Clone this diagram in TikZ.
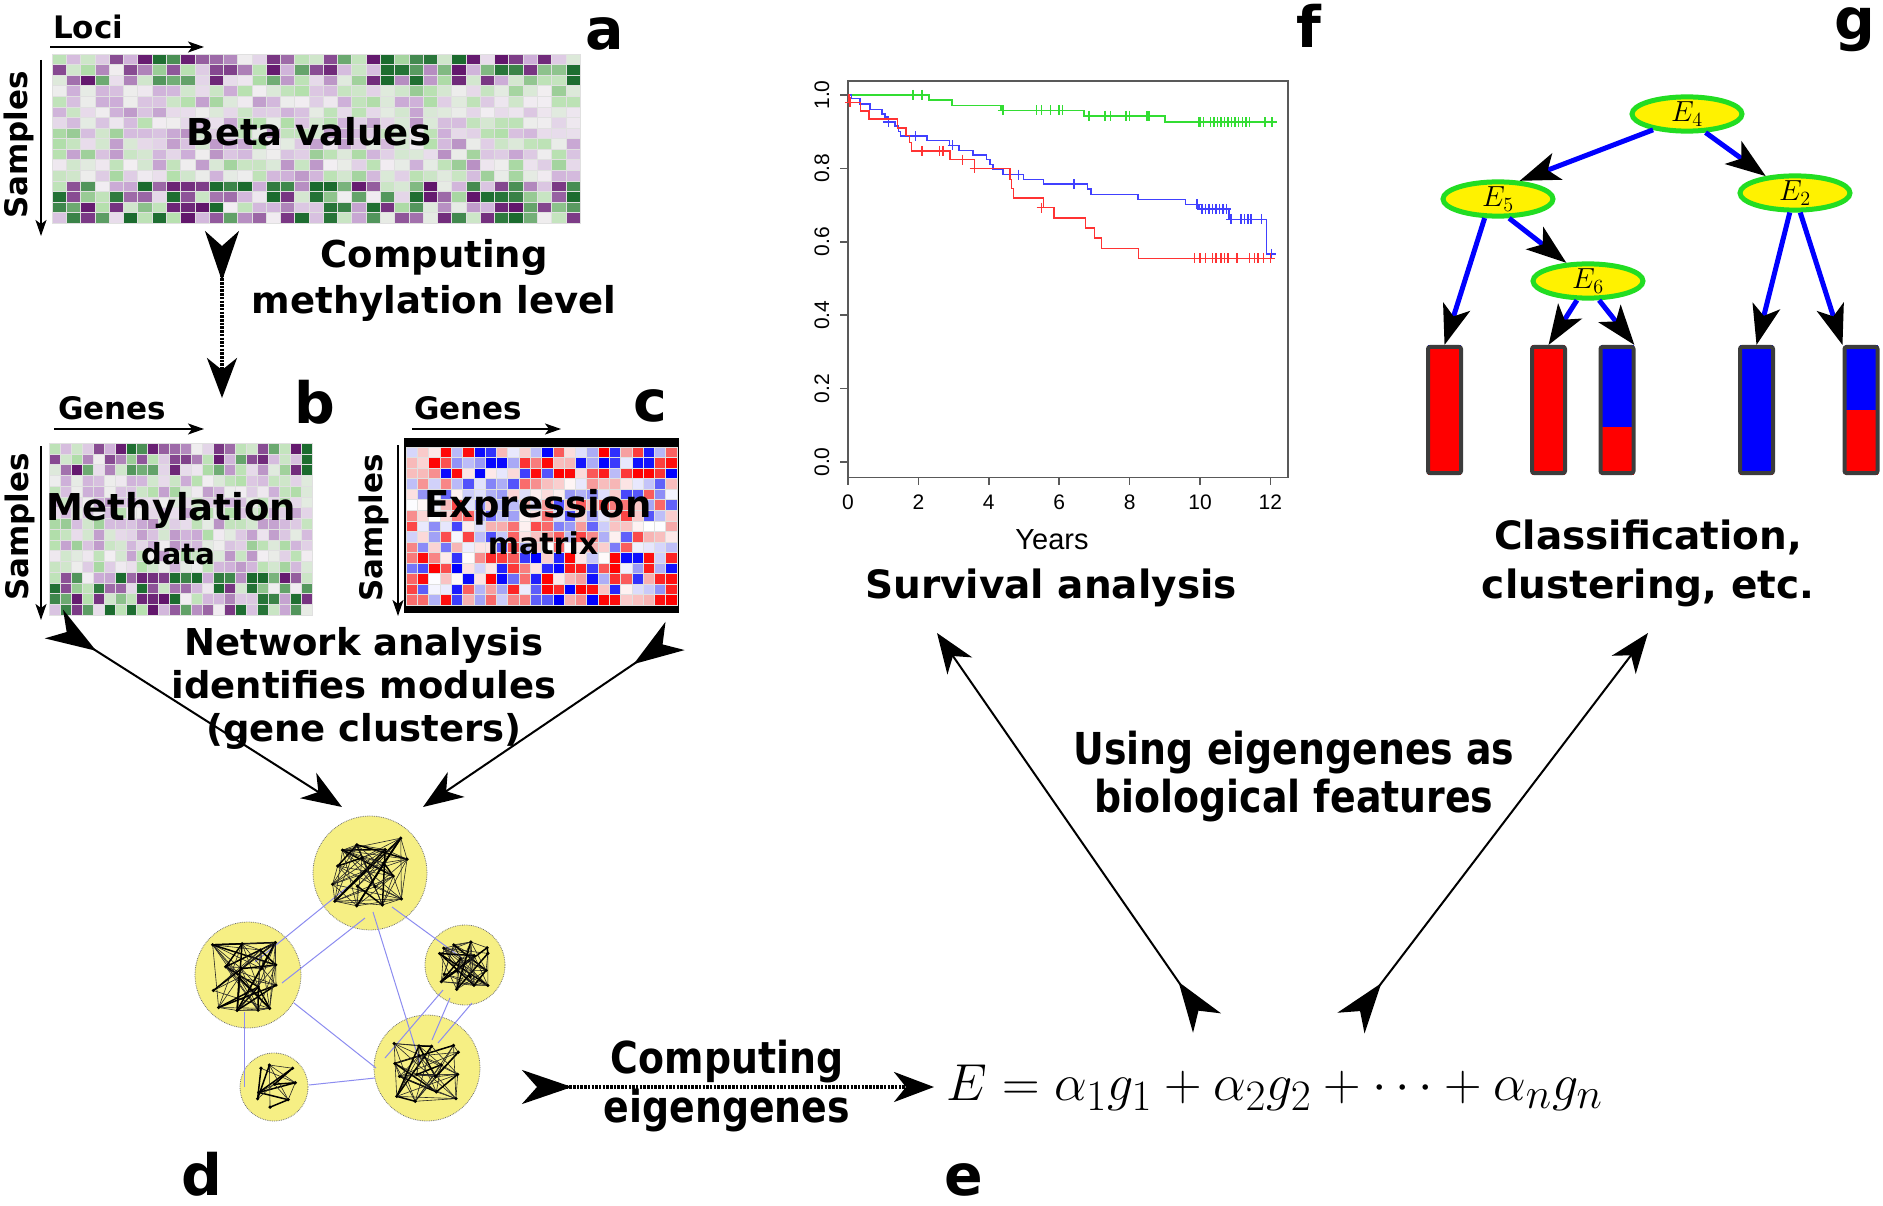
\documentclass[tikz,border=0pt]{standalone}
\usepackage{fontspec}
\setmainfont{DejaVu Sans}
\newfontfamily\condfont[FakeStretch=0.86]{DejaVu Sans}
\newfontfamily\plotfont{Liberation Sans}
\usetikzlibrary{arrows.meta, positioning, calc, shapes.geometric}

% heatmap palettes
\definecolor{pgZero}{HTML}{F2EEF2}
\definecolor{pgPosMid}{HTML}{B4E0AC}
\definecolor{pgPosDark}{HTML}{1B6B2E}
\definecolor{pgNegMid}{HTML}{CDAED8}
\definecolor{pgNegDark}{HTML}{62166C}
\definecolor{rbZero}{HTML}{FFFFFF}
\definecolor{rbPosMid}{HTML}{F6A8A8}
\definecolor{rbPosDark}{HTML}{FF0000}
\definecolor{rbNegMid}{HTML}{A8A8F6}
\definecolor{rbNegDark}{HTML}{0000FF}
% other colours
\definecolor{moduleYellow}{HTML}{F6EF84}
\definecolor{linkBlue}{HTML}{8C8CF0}
\definecolor{survGreen}{HTML}{33DD33}
\definecolor{survBlue}{HTML}{4040FF}
\definecolor{survRed}{HTML}{FF3333}
\definecolor{treeGreen}{HTML}{22DD22}
\definecolor{barFrame}{HTML}{3C3C3C}

\tikzset{
  lbl/.style={font=\fontsize{37}{45}\selectfont\bfseries, align=center, inner sep=0pt},
  axislbl/.style={font=\fontsize{31}{36}\selectfont\bfseries, inner sep=0pt},
  panel/.style={font=\fontsize{57}{60}\selectfont\bfseries, anchor=base, inner sep=0pt},
  condlbl/.style={font=\condfont\fontsize{44}{49}\selectfont\bfseries, align=center, inner sep=0pt},
  axarrow/.style={line width=1.8pt, -{Stealth[length=16pt, width=11pt, inset=4pt]}},
  bigflow/.style={arrows={Stealth[reversed, length=50pt, width=34pt, inset=15pt]-Stealth[length=40pt, width=30pt, inset=12pt]}},
  dotflow/.style={bigflow, line width=3.5pt, dash pattern=on 2.5pt off 1.2pt},
  thinflow/.style={bigflow, line width=2pt},
  hmcell/.style={draw=black!12, line width=0.4pt},
  hmbox/.style={inner sep=0pt, anchor=north west},
  module/.style={circle, fill=moduleYellow, draw=black!55, densely dotted, line width=0.8pt, inner sep=0pt},
  geneedge/.style={line width=0.6pt, black!85},
  modlink/.style={linkBlue, line width=1pt},
  plotframe/.style={draw=black!65, line width=1.6pt},
  ticklbl/.style={font=\plotfont\fontsize{21}{22}\selectfont, inner sep=0pt},
  survG/.style={survGreen, line width=1.5pt},
  survB/.style={survBlue, line width=1.5pt},
  survR/.style={survRed, line width=1.5pt},
  censor/.style={mark=+, mark size=5pt, only marks},
  split/.style={ellipse, draw=treeGreen, fill=yellow, line width=5pt, minimum width=110pt, minimum height=33pt, inner sep=0pt},
  treeedge/.style={draw=blue, line width=5pt, -{Stealth[color=black, length=40pt, width=28pt, inset=10pt]}},
  barbox/.style={draw=barFrame, line width=4pt, rounded corners=2pt, minimum width=33pt, minimum height=126pt, inner sep=0pt},
}

% #1 box node, #2 cols, #3 rows, #4 cell w, #5 cell h, #6 seed, #7 strong top rows, #8 strong bottom rows, #9 palette
\newcommand\heatmap[9]{%
  \pgfmathsetseed{#6}%
  \foreach \hc in {1,...,#2}{%
    \foreach \hr in {1,...,#3}{%
      \pgfmathsetmacro\hv{rand}%
      \pgfmathsetmacro\ha{abs(\hv)}%
      \pgfmathtruncatemacro\hsat{(\hr<=#7)||(\hr>#3-#8)}%
      \ifnum\hsat=1 \pgfmathsetmacro\ha{1-(1-\ha)*(1-\ha)}\else\pgfmathsetmacro\ha{\ha*\hmsoft}\fi
      \ifdim\hv pt<0pt \def\hside{Neg}\else\def\hside{Pos}\fi
      \ifdim\ha pt<0.5pt
        \pgfmathsetmacro\hp{\ha*200}\edef\hcol{#9\hside Mid!\hp!#9Zero}%
      \else
        \pgfmathsetmacro\hp{(\ha-0.5)*200}\edef\hcol{#9\hside Dark!\hp!#9\hside Mid}%
      \fi
      \filldraw[hmcell, fill=\hcol] ($(#1.north west)+({(\hc-1)*#4},{(\hr-1)*#5})$) rectangle +(#4,#5);
    }%
  }%
}
\def\hmsoft{0.6}

% #1 module node, #2 genes per side, #3 spacing, #4 jitter, #5 seed
\newcommand\genemodule[5]{%
  \pgfmathsetseed{#5}%
  \pgfmathsetmacro\gmid{(#2+1)/2}%
  \foreach \ga in {1,...,#2}{%
    \foreach \gb in {1,...,#2}{%
      \pgfmathtruncatemacro\k{(\ga-1)*#2+\gb}%
      \pgfmathsetmacro\gx{(\ga-\gmid)*#3+(rnd*2-1)*#4}%
      \pgfmathsetmacro\gy{(\gb-\gmid)*#3+(rnd*2-1)*#4}%
      \coordinate (#1-\k) at ($(#1)+(\gx,\gy)$);
    }%
  }%
  \pgfmathtruncatemacro\gnum{#2*#2}%
  \pgfmathtruncatemacro\glast{\gnum-1}%
  \foreach \i in {1,...,\glast}{%
    \pgfmathtruncatemacro\gnext{\i+1}%
    \foreach \j in {\gnext,...,\gnum}{%
      \pgfmathsetmacro\gpick{rnd}%
      \ifdim\gpick pt<0.12pt \draw[geneedge, line width=1.5pt, black] (#1-\i) -- (#1-\j);%
      \else\ifdim\gpick pt<0.5pt \draw[geneedge] (#1-\i) -- (#1-\j);\fi\fi
    }%
  }%
  \foreach \k in {1,...,\gnum} \fill (#1-\k) circle (1.8pt);
}

% #1 name, #2 x centre, #3 red fraction
\newcommand\classbar[3]{%
  \fill[red] (#2-16.5,345) rectangle (#2+16.5,475);
  \fill[blue] (#2-16.5,345) rectangle (#2+16.5,{475-130*#3});
  \node[barbox] (#1) at (#2,410) {};
}

\begin{document}
\begin{tikzpicture}[x=1pt, y=-1pt]
\fill[white] (0,0) rectangle (1883,1206);
\useasboundingbox (0,0) rectangle (1883,1206);

% ---- a: beta values
\node[hmbox, minimum width=528pt, minimum height=169pt] (hmA) at (52,54) {};
\heatmap{hmA}{37}{16}{14.27}{10.56}{42}{3}{4}{pg}
\node[lbl] (betaLbl) at (309,132) {Beta values};
\node[axislbl, anchor=base west] (lociLbl) at (53,39) {Loci};
\coordinate (lociS) at (50,47);
\coordinate (lociE) at (204,47);
\draw[axarrow] (lociS) -- (lociE);
\node[axislbl, rotate=90] (sampA) at (19,145) {Samples};
\coordinate (sampAS) at (41,60);
\coordinate (sampAE) at (41,236);
\draw[axarrow] (sampAS) -- (sampAE);
\node[panel] (pa) at (605,50) {a};

% a -> b
\node[lbl, font=\fontsize{37}{46}\selectfont\bfseries] (methLvl) at (434,280) {Computing\\methylation level};
\coordinate (abS) at (222,231);
\coordinate (abE) at (222,398);
\draw[dotflow] (abS) -- (abE);

% ---- b: methylation data
\node[hmbox, minimum width=263pt, minimum height=172pt] (hmB) at (49,443) {};
\heatmap{hmB}{24}{16}{10.96}{10.75}{42}{3}{4}{pg}
\node[lbl] (methLbl) at (171,510) {Methylation};
\node[lbl, font=\fontsize{29}{30}\selectfont\bfseries] (dataLbl) at (178,554) {data};
\node[axislbl, anchor=base west] (genesB) at (58,419) {Genes};
\coordinate (genBS) at (54,429);
\coordinate (genBE) at (204,429);
\draw[axarrow] (genBS) -- (genBE);
\node[axislbl, rotate=90] (sampB) at (20,527) {Samples};
\coordinate (sampBS) at (41,446);
\coordinate (sampBE) at (41,620);
\draw[axarrow] (sampBS) -- (sampBE);
\node[panel] (pb) at (315,423) {b};

% ---- c: expression matrix
\fill[black] (404,438) rectangle (679,613);
\node[hmbox, minimum width=271pt, minimum height=158pt] (hmC) at (406,447) {};
\def\hmsoft{0.8}
\heatmap{hmC}{24}{15}{11.29}{10.53}{7}{3}{5}{rb}
\node[lbl] (exprLbl) at (538,507) {Expression};
\node[lbl, font=\fontsize{30}{30}\selectfont\bfseries] (matLbl) at (543,543) {matrix};
\node[axislbl, anchor=base west] (genesC) at (414,419) {Genes};
\coordinate (genCS) at (412,429);
\coordinate (genCE) at (561,429);
\draw[axarrow] (genCS) -- (genCE);
\node[axislbl, rotate=90] (sampC) at (374,528) {Samples};
\coordinate (sampCS) at (398,445);
\coordinate (sampCE) at (398,616);
\draw[axarrow] (sampCS) -- (sampCE);
\node[panel] (pc) at (650,421) {c};

% b, c -> d
\node[lbl, font=\fontsize{37}{43}\selectfont\bfseries] (netLbl) at (364,688) {Network analysis\\identifies modules\\(gene clusters)};
\coordinate (bdS) at (54,624);
\coordinate (bdE) at (342,807);
\coordinate (cdS) at (675,636);
\coordinate (cdE) at (423,807);
\draw[thinflow] (bdS) -- (bdE);
\draw[thinflow] (cdS) -- (cdE);

% ---- d: modules
\node[module, minimum size=114pt] (modTop) at (370,873) {};
\node[module, minimum size=106pt] (modLeft) at (248,975) {};
\node[module, minimum size=80pt] (modRight) at (465,965) {};
\node[module, minimum size=68pt] (modBL) at (274,1087) {};
\node[module, minimum size=106pt] (modBR) at (427,1068) {};
\draw[modlink] ($(modTop)+(-20,12)$) -- ($(modLeft)+(7,-13)$);
\draw[modlink] ($(modTop)+(-5,45)$) -- ($(modLeft)+(34,8)$);
\draw[modlink] ($(modTop)+(22,34)$) -- ($(modRight)+(-3,-7)$);
\draw[modlink] ($(modTop)+(3,39)$) -- ($(modBR)+(-7,-5)$);
\draw[modlink] ($(modLeft)+(-4,37)$) -- ($(modBL)+(-30,0)$);
\draw[modlink] ($(modLeft)+(46,28)$) -- ($(modBR)+(-51,0)$);
\draw[modlink] ($(modBL)+(35,-2)$) -- ($(modBR)+(-52,10)$);
\draw[modlink] ($(modRight)+(-22,25)$) -- ($(modBR)+(-42,-10)$);
\draw[modlink] ($(modRight)+(7,38)$) -- ($(modBR)+(11,-25)$);
\draw[modlink] ($(modRight)+(-15,33)$) -- ($(modBR)+(5,-28)$);
\genemodule{modTop}{4}{20}{8}{11}
\genemodule{modLeft}{4}{19}{7}{23}
\genemodule{modRight}{4}{14}{5}{5}
\genemodule{modBL}{3}{17}{6}{17}
\genemodule{modBR}{4}{19}{7}{29}
\node[panel] (pd) at (202,1195) {d};

% d -> e
\node[condlbl] (eigLbl) at (727,1086) {Computing\\eigengenes};
\coordinate (deS) at (522,1087);
\coordinate (deE) at (934,1087);
\draw[dotflow] (deS) -- (deE);

% ---- e: eigengene
\node[inner sep=0pt] (eqE) at (1275,1088) {\scalebox{2.09}{\Huge$E=\alpha_1g_1+\alpha_2g_2+\cdots+\alpha_ng_n$}};
\node[panel] (pe) at (964,1195) {e};

% e -> f, g
\node[condlbl, font=\condfont\fontsize{44}{48}\selectfont\bfseries] (useLbl) at (1294,777) {Using eigengenes as\\biological features};
\coordinate (efS) at (1207,1023);
\coordinate (efE) at (937,633);
\coordinate (egS) at (1351,1023);
\coordinate (egE) at (1648,633);
\draw[thinflow] (efS) -- (efE);
\draw[thinflow] (egS) -- (egE);

% ---- f: survival curves
\begin{scope}[shift={(848,462)}, x=35.2pt, y=367pt]
  \draw[plotframe] (0,-0.042) rectangle (12.5,1.038);
  \foreach \t in {0,2,...,12}{
    \draw[plotframe] (\t,-0.042) -- (\t,-0.064);
    \node[ticklbl] (xtick\t) at (\t,-0.11) {\t};
  }
  \foreach \v [count=\n] in {0.0,0.2,0.4,0.6,0.8,1.0}{
    \draw[plotframe] (0,\v) -- (-0.23,\v);
    \node[ticklbl, rotate=90] (ytick\n) at (-0.74,\v) {\v};
  }
  \draw[survG] plot[const plot] coordinates {(0,1) (2.3,0.986) (2.95,0.972) (4.35,0.958) (6.7,0.943) (9.0,0.926) (12.1,0.926)};
  \draw[survG] plot[censor] coordinates {(1.85,1) (2.1,1) (4.4,0.958) (5.35,0.958) (5.5,0.958) (5.75,0.958) (6.0,0.958) (6.1,0.958)
    (6.85,0.943) (7.3,0.943) (7.45,0.943) (7.9,0.943) (8.0,0.943) (8.5,0.943) (8.55,0.943)
    (9.95,0.926) (10.0,0.926) (10.1,0.926) (10.3,0.926) (10.4,0.926) (10.5,0.926) (10.6,0.926) (10.7,0.926) (10.8,0.926)
    (10.9,0.926) (11.0,0.926) (11.1,0.926) (11.2,0.926) (11.3,0.926) (11.4,0.926) (11.85,0.926) (12.05,0.926)};
  \draw[survB] plot[const plot] coordinates {(0,1) (0.1,0.99) (0.34,0.975) (0.62,0.96) (0.96,0.948) (1.05,0.94) (1.15,0.927)
    (1.34,0.915) (1.44,0.9) (1.49,0.888) (2.25,0.876) (2.88,0.863) (3.16,0.849) (3.55,0.836) (3.93,0.824) (4.03,0.81)
    (4.12,0.798) (4.41,0.783) (4.98,0.77) (5.56,0.757) (6.81,0.744) (6.9,0.729) (8.24,0.715) (9.59,0.702) (9.97,0.69)
    (10.83,0.661) (11.89,0.567) (12.05,0.567)};
  \draw[survB] plot[censor] coordinates {(1.15,0.927) (1.92,0.888) (2.97,0.863) (4.84,0.783) (6.42,0.757) (9.92,0.702)
    (10.06,0.69) (10.15,0.69) (10.25,0.69) (10.35,0.69) (10.45,0.69) (10.55,0.69) (10.65,0.69) (10.75,0.69)
    (10.88,0.661) (11.17,0.661) (11.26,0.661) (11.36,0.661) (11.45,0.661) (11.74,0.661) (12.03,0.567)};
  \draw[survR] plot[const plot] coordinates {(0,1) (0.03,0.98) (0.35,0.957) (0.6,0.934) (1.4,0.91) (1.65,0.89) (1.75,0.87)
    (1.8,0.848) (2.9,0.824) (3.6,0.8) (4.6,0.77) (4.65,0.745) (4.7,0.72) (5.55,0.693) (5.85,0.665) (6.75,0.637)
    (7.0,0.61) (7.2,0.582) (8.25,0.555) (12.1,0.555)};
  \draw[survR] plot[censor] coordinates {(0.05,0.98) (2.1,0.848) (2.6,0.848) (2.7,0.848) (3.25,0.824) (3.6,0.8) (5.5,0.693)
    (9.85,0.555) (10.0,0.555) (10.15,0.555) (10.35,0.555) (10.45,0.555) (10.6,0.555) (10.7,0.555) (10.8,0.555)
    (11.05,0.555) (11.4,0.555) (11.55,0.555) (11.65,0.555) (11.8,0.555) (12.0,0.555)};
\end{scope}
\node[font=\plotfont\fontsize{29}{30}\selectfont, inner sep=0pt] (yearsLbl) at (1052,540) {Years};
\node[lbl, font=\fontsize{39}{49}\selectfont\bfseries] (survLbl) at (1051,588) {Survival analysis};
\node[panel] (pf) at (1309,48) {f};

% ---- g: classification tree
\node[split] (E4) at (1687,114) {\scalebox{1.4}{\huge$E_4$}};
\node[split] (E5) at (1498,199) {\scalebox{1.4}{\huge$E_5$}};
\node[split] (E2) at (1795,193) {\scalebox{1.4}{\huge$E_2$}};
\node[split] (E6) at (1588,281) {\scalebox{1.4}{\huge$E_6$}};
\classbar{bar1}{1444.5}{0.97}
\classbar{bar2}{1548.5}{1}
\classbar{bar3}{1617}{0.37}
\classbar{bar4}{1756.5}{0.03}
\classbar{bar5}{1861}{0.5}
\path
  (E4.205) edge[treeedge] (E5.40)
  (E4.315) edge[treeedge] (E2.150)
  (E5.235) edge[treeedge] (bar1.north)
  (E5.300) edge[treeedge] (E6.140)
  (E6.240) edge[treeedge] (bar2.north)
  (E6.300) edge[treeedge] (bar3.75)
  (E2.255) edge[treeedge] (bar4.north)
  (E2.285) edge[treeedge] (bar5.north west);
\node[lbl, font=\fontsize{39}{49}\selectfont\bfseries] (classLbl) at (1648,563) {Classification,\\clustering, etc.};
\node[panel] (pg) at (1855,40) {g};
\end{tikzpicture}
\end{document}
